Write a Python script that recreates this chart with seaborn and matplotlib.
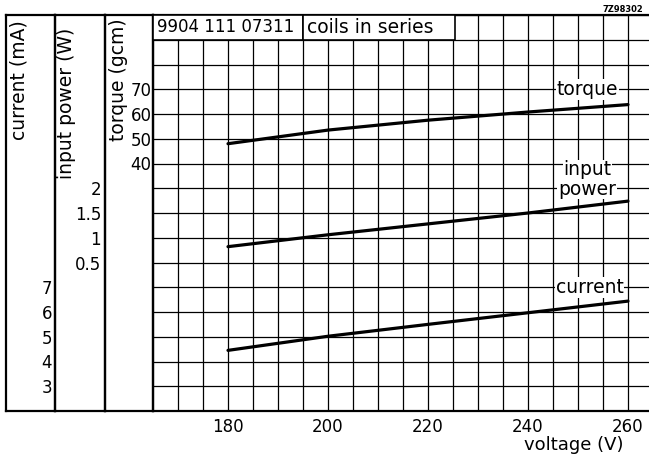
import matplotlib
matplotlib.use("Agg")
import numpy as np
import pandas as pd
import matplotlib.pyplot as plt
import seaborn as sns
from matplotlib.patches import Rectangle
from matplotlib.ticker import MultipleLocator, FixedLocator, FuncFormatter

# --- data ---
voltage = [180, 200, 220, 240, 260]          # V
torque = [48.0, 53.5, 57.5, 60.8, 63.8]      # gcm
input_power = [0.82, 1.06, 1.28, 1.50, 1.74] # W
current = [4.45, 5.02, 5.50, 5.97, 6.44]     # mA

voltage_ticks = [180, 200, 220, 240, 260]
torque_ticks = [40, 50, 60, 70]
power_ticks = [0.5, 1, 1.5, 2]
power_labels = ["0.5", "1", "1.5", "2"]
current_ticks = [3, 4, 5, 6, 7]
current_labels = ["3", "4", "5", "6", "7"]

df = pd.DataFrame({"voltage": voltage, "torque": torque,
                   "power": input_power, "current": current})

sns.set_theme(style="white")
plt.rcParams["font.family"] = ["DejaVu Sans"]
plt.rcParams["axes.edgecolor"] = "black"
plt.rcParams["axes.labelcolor"] = "black"
plt.rcParams["text.color"] = "black"
plt.rcParams["xtick.color"] = "black"
plt.rcParams["ytick.color"] = "black"

W, H = 649, 459
TOP, BOTTOM = 15, 411
WORD = 13.5   # size for words; digits stay at 12
fig = plt.figure(figsize=(W / 100, H / 100), dpi=100)


def fx(px):
    return px / W


def fy(py):
    return 1 - py / H


# left columns holding the axis titles
cols = [(6, 55, "current (mA)", 19, 20),
        (55, 105, "input power (W)", 67, 28),
        (105, 153, "torque (gcm)", 118, 18)]
for x0, x1, label, xc, yt in cols:
    cax = fig.add_axes([fx(x0), fy(BOTTOM), (x1 - x0) / W, (BOTTOM - TOP) / H])
    cax.set_facecolor("none")
    cax.set_xticks([])
    cax.set_yticks([])
    for s in cax.spines.values():
        s.set_linewidth(1.6)
        s.set_color("black")
    cax.text((xc - x0) / (x1 - x0), (BOTTOM - yt) / (BOTTOM - TOP), label,
             rotation=90, ha="center", va="top", fontsize=WORD,
             transform=cax.transAxes)

# main grid axes (torque scale)
ax = fig.add_axes([fx(153), fy(BOTTOM), (649 - 153) / W, (BOTTOM - TOP) / H])
ax.set_xlim(165, 264.2)
ax.set_ylim(-60, 100)
ax.xaxis.set_major_locator(FixedLocator(voltage_ticks))
ax.xaxis.set_minor_locator(MultipleLocator(5))
ax.yaxis.set_major_locator(MultipleLocator(10))
ax.yaxis.set_major_formatter(
    FuncFormatter(lambda v, p: f"{v:.0f}" if round(v) in torque_ticks else ""))
ax.grid(True, which="both", axis="x", color="black", linewidth=0.9)
ax.grid(True, which="major", axis="y", color="black", linewidth=0.9)
ax.tick_params(which="both", length=0)
ax.tick_params(axis="x", pad=5, labelsize=12)
ax.tick_params(axis="y", pad=1, labelsize=12)
ax.spines["right"].set_visible(False)
for side in ["left", "bottom", "top"]:
    ax.spines[side].set_linewidth(1.6)

sns.lineplot(data=df, x="voltage", y="torque", ax=ax, color="black", linewidth=2.3)
ax.set_ylabel("")
ax.set_xlabel("voltage (V)", fontsize=13, ha="right", color="black")
ax.xaxis.set_label_coords((623 - 153) / 496, (BOTTOM - 436) / (BOTTOM - TOP))

# header boxes
ax.add_patch(Rectangle((165, 90), 30, 10, facecolor="white", edgecolor="black",
                       linewidth=1.2, zorder=3))
ax.add_patch(Rectangle((195, 90), 30.4, 10, facecolor="white", edgecolor="black",
                       linewidth=1.2, zorder=3))
ax.text(165.8, 95, "9904 111 07311", ha="left", va="center", fontsize=12, zorder=4)
ax.text(195.8, 95, "coils in series", ha="left", va="center", fontsize=WORD,
        zorder=4)

box = dict(facecolor="white", edgecolor="none", pad=0.5)
ax.text(251.8, 70, "torque", ha="center", va="center", fontsize=WORD, bbox=box)

# input power scale
axp = ax.twinx()
axp.set_ylim(-2.5, 5.5)
axp.yaxis.set_ticks_position("left")
axp.set_yticks(power_ticks, power_labels)
axp.tick_params(axis="y", length=0, pad=37.4, labelsize=12)
axp.grid(False)
for s in axp.spines.values():
    s.set_visible(False)
sns.lineplot(data=df, x="voltage", y="power", ax=axp, color="black", linewidth=2.3)
axp.set_ylabel("")
axp.text(251.9, 2.37, "input", ha="center", va="center", fontsize=WORD, bbox=box)
axp.text(251.8, 1.98, "power", ha="center", va="center", fontsize=WORD, bbox=box)

# current scale
axc = ax.twinx()
axc.set_ylim(2, 18)
axc.yaxis.set_ticks_position("left")
axc.set_yticks(current_ticks, current_labels)
axc.tick_params(axis="y", length=0, pad=72.7, labelsize=12)
axc.grid(False)
for s in axc.spines.values():
    s.set_visible(False)
sns.lineplot(data=df, x="voltage", y="current", ax=axc, color="black", linewidth=2.3)
axc.set_ylabel("")
axc.text(252.3, 6.98, "current", ha="center", va="center", fontsize=WORD, bbox=box)

fig.text(fx(643), fy(10), "7Z98302", ha="right", va="center", fontsize=6,
         fontweight="bold")

fig.savefig("out.png", dpi=100)
